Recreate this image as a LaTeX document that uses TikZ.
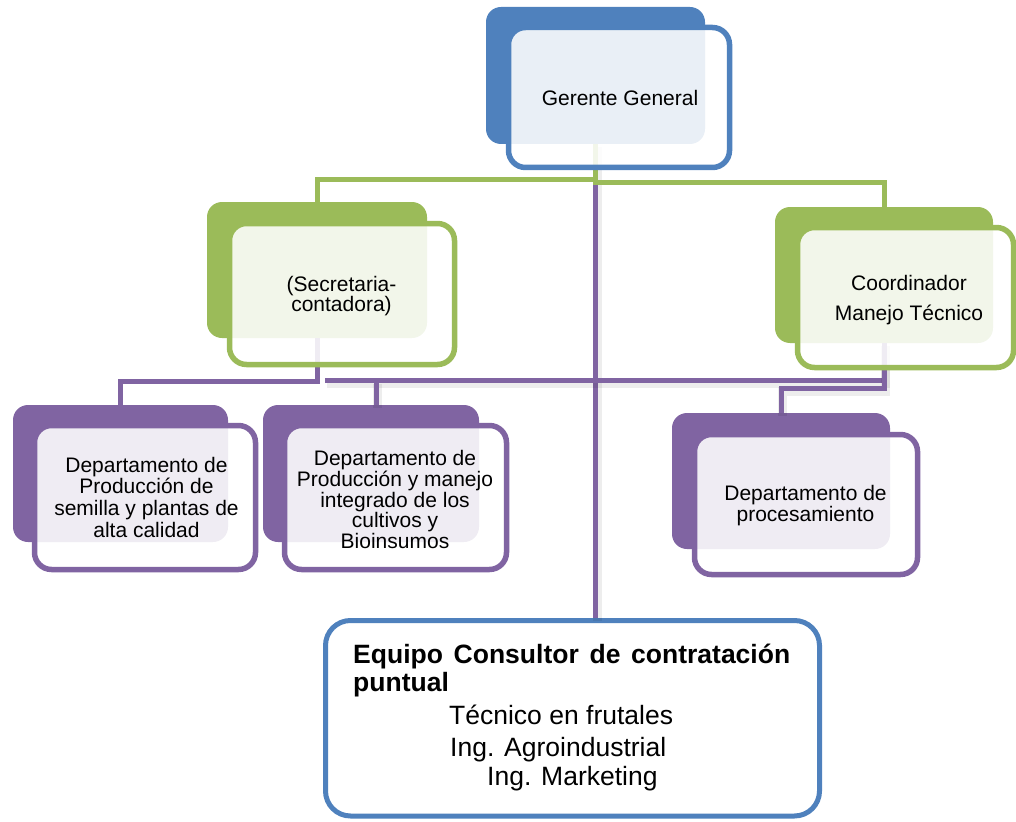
\documentclass[tikz,border=0pt]{standalone}
\usepackage{fontspec}
\setmainfont{Liberation Sans}
\definecolor{orgblue}{HTML}{4F81BD}
\definecolor{orggreen}{HTML}{9BBB59}
\definecolor{orgpurple}{HTML}{8064A2}

% centred lines, first baseline is the box baseline; #1 = line distance
\newcommand\boxtext[2]{{\fontsize{21}{#1}\selectfont\vtop{\halign{\hfil##\hfil\cr#2\crcr}}}}

% text of the consultants box
\newcommand\equipotext{{\fontsize{26.5}{28.5}\selectfont\vtop{\halign{##\hfil\cr
\makebox[437pt][s]{\bfseries Equipo Consultor de contratación}\cr
\bfseries puntual\cr
\noalign{\vskip3.8pt}
\hskip96pt Técnico en frutales\cr
\noalign{\vskip4.2pt}
\hskip97pt Ing. Agroindustrial\cr
\hskip134pt Ing. Marketing\cr}}}}

\tikzset{
  backcard/.style={rectangle, rounded corners=15pt, inner sep=0pt, draw=none, fill=#1},
  frontcard/.style={rectangle, rounded corners=17pt, inner sep=0pt, draw=#1,
    line width=5.5pt, fill=white, fill opacity=0.88, draw opacity=1},
  cardtext/.style={anchor=base, inner sep=0pt, text=black},
  link/.style={line width=5pt, draw=#1},
  softshadow/.style={preaction={draw=black, draw opacity=0.07, line width=9pt,
    transform canvas={xshift=1.5pt, yshift=-3pt}}},
}

\begin{document}
\begin{tikzpicture}[x=1pt, y=-1pt]
\useasboundingbox (0,0) rectangle (1016,821);

% back cards (solid colour)
\node[backcard=orgblue,   minimum width=219pt, minimum height=137pt] (gerB) at (595.5,75.5) {};
\node[backcard=orggreen,  minimum width=220pt, minimum height=136pt] (secB) at (317,270) {};
\node[backcard=orggreen,  minimum width=218pt, minimum height=136pt] (cooB) at (884,275) {};
\node[backcard=orgpurple, minimum width=215pt, minimum height=137pt] (d1B) at (120.5,473.5) {};
\node[backcard=orgpurple, minimum width=216pt, minimum height=137pt] (d2B) at (371,473.5) {};
\node[backcard=orgpurple, minimum width=218pt, minimum height=136pt] (d3B) at (781,481) {};

% consultants box
\node[rectangle, rounded corners=25pt, draw=orgblue, line width=5pt, fill=white,
      minimum width=494pt, minimum height=195.5pt, inner sep=0pt] (equipo) at (572.5,718.25) {};

% connectors
\coordinate (hubL) at (325,380.5);
\draw[link=orgpurple, softshadow] (gerB.south) -- (gerB.south |- equipo.north);
\draw[link=orgpurple, softshadow] (cooB.south) |- (hubL);
\draw[link=orgpurple, softshadow] ([xshift=5pt]d2B.north) -- ([xshift=5pt]d2B.north |- hubL);
\draw[link=orgpurple, softshadow] (cooB.south) -- ++(0,45) -| (d3B.north);
\draw[link=orgpurple] (secB.south) -- ++(0,43.5) -| (d1B.north);
\draw[link=orggreen] (gerB.south) -- ++(0,35) -| (secB.north);
\draw[link=orggreen] (gerB.south) -- ++(0,38.5) -| (cooB.north);

% front cards
\node[frontcard=orgblue,   minimum width=221pt, minimum height=140pt] (gerF) at (619,97.5) {};
\node[frontcard=orggreen,  minimum width=225pt, minimum height=141pt] (secF) at (342,294) {};
\node[frontcard=orggreen,  minimum width=216pt, minimum height=140pt] (cooF) at (905.5,297.5) {};
\node[frontcard=orgpurple, minimum width=221pt, minimum height=144pt] (d1F) at (145,497.5) {};
\node[frontcard=orgpurple, minimum width=222pt, minimum height=144pt] (d2F) at (395.5,497.5) {};
\node[frontcard=orgpurple, minimum width=223pt, minimum height=140pt] (d3F) at (806,504.5) {};

% labels
\node[cardtext] (gerT) at (620,106) {\boxtext{21}{Gerente General}};
\node[cardtext] (secT) at (341.5,291.7) {\boxtext{20}{(Secretaria-\cr contadora)}};
\node[cardtext] (cooT) at (909,290) {\boxtext{30}{Coordinador\cr Manejo Técnico}};
\node[cardtext] (d1T) at (146.5,472) {\boxtext{21.7}{Departamento de\cr Producción de\cr semilla y plantas de\cr alta calidad}};
\node[cardtext] (d2T) at (395,465.7) {\boxtext{20.65}{Departamento de\cr Producción y manejo\cr integrado de los\cr cultivos y\cr Bioinsumos}};
\node[cardtext] (d3T) at (805.5,500) {\boxtext{21.7}{Departamento de\cr procesamiento}};
\node[anchor=base west, inner sep=0pt] (equipoT) at (353,663.3) {\equipotext};
\end{tikzpicture}
\end{document}
